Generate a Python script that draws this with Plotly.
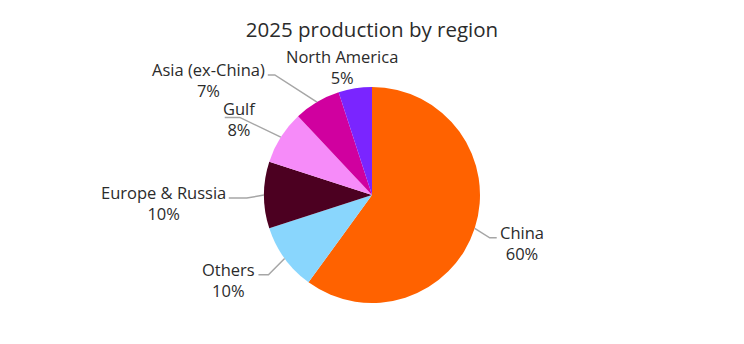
import math
import plotly.graph_objects as go

# ---- data ----
regions = ["China", "Others", "Europe & Russia", "Gulf", "Asia (ex-China)", "North America"]
shares = [60, 10, 10, 8, 7, 5]
colors = ["#FF6200", "#89D6FD", "#4C0021", "#F68BF9", "#D0009F", "#7A25FF"]
title_text = "2025 production by region"

# ---- layout parameters (label placement, not data) ----
label_radius = [1.16, 1.21, 1.16, 1.42, 1.43, 1.22]
label_nudge = [2.0, -1.6, -1.4, -2.0, -8.4, -4.0]
hseg = [7, 10, 18, 15, 7, 0]          # horizontal leader segment length (px)
label_mode = ["side", "side", "side", "center", "side", "free"]

W, H = 744, 344
cx, cy, R = 372, 195, 108
FONT = "Open Sans"
TXT = "#2b2b2b"
LINE = "#A6A6A6"
LSIZE = 16.5

fig = go.Figure(go.Pie(
    labels=regions, values=shares, sort=False, direction="clockwise", rotation=0,
    marker=dict(colors=colors, line=dict(width=0)),
    textinfo="none", hoverinfo="label+percent", showlegend=False,
    domain=dict(x=[(cx - R) / W, (cx + R) / W], y=[(H - cy - R) / H, (H - cy + R) / H]),
))

def px(x):
    return x / W

def py(y):
    return 1 - y / H

total = sum(shares)
cum = 0
shapes, annotations = [], []
for i, (name, v) in enumerate(zip(regions, shares)):
    mid = (cum + v / 2) / total * 360
    cum += v
    a0 = math.radians(mid)
    sx, sy = cx + R * math.sin(a0), cy - R * math.cos(a0)
    a1 = math.radians(mid + label_nudge[i])
    rr = R * label_radius[i]
    ex, ey = cx + rr * math.sin(a1), cy - rr * math.cos(a1)
    pct = round(v / total * 100)
    text = f"{name}<br>{pct}%"
    font = dict(family=FONT, size=LSIZE, color=TXT)
    if label_mode[i] == "free":
        annotations.append(dict(x=px(ex), y=py(ey), xref="paper", yref="paper",
                                text=text, showarrow=False, align="center",
                                xanchor="center", yanchor="middle", font=font))
        continue
    side = 1 if ex > cx else -1
    hx = ex + side * hseg[i]
    shapes.append(dict(type="path", xref="paper", yref="paper",
                       path=f"M {px(sx)} {py(sy)} L {px(ex)} {py(ey)} L {px(hx)} {py(ey)}",
                       line=dict(color=LINE, width=1.5)))
    if label_mode[i] == "center":
        annotations.append(dict(x=px(ex), y=py(ey + 2), xref="paper", yref="paper",
                                text=text, showarrow=False, align="center",
                                xanchor="center", yanchor="middle", font=font))
    else:
        annotations.append(dict(x=px(hx + side * 1), y=py(ey + 5), xref="paper", yref="paper",
                                text=text, showarrow=False, align="center",
                                xanchor="left" if side > 0 else "right", yanchor="middle",
                                font=font))

fig.update_layout(
    width=W, height=H, margin=dict(l=0, r=0, t=0, b=0),
    paper_bgcolor="white", plot_bgcolor="white",
    title=dict(text=title_text, x=0.5, xanchor="center", y=1 - 30 / H, yanchor="middle",
               font=dict(family=FONT, size=20.5, color=TXT)),
    shapes=shapes, annotations=annotations,
)

fig.write_html("out.html")
